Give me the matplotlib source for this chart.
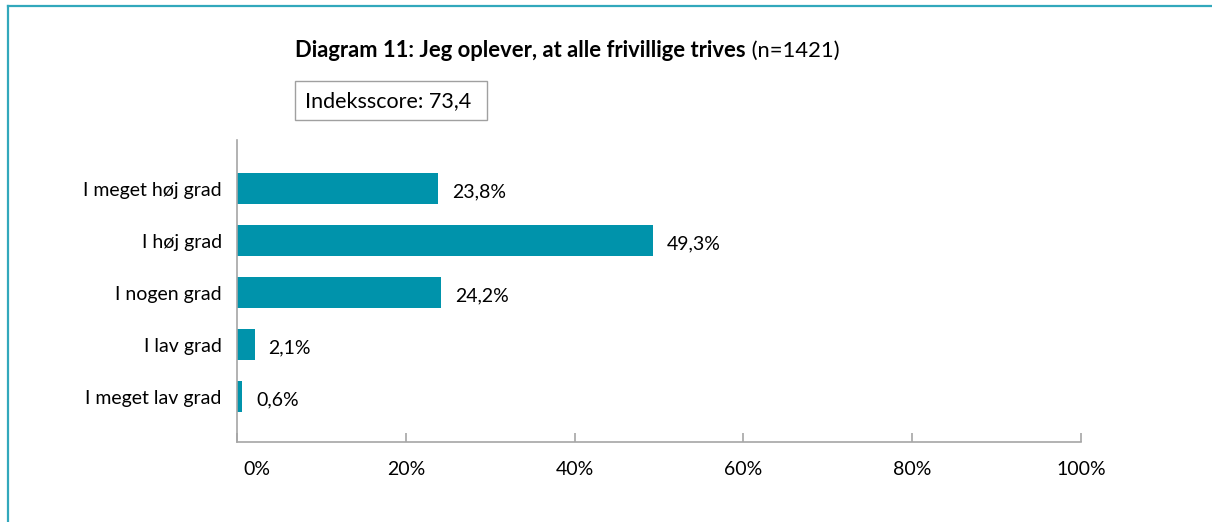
import matplotlib
matplotlib.use("Agg")
import matplotlib.pyplot as plt
import matplotlib.patches as patches
import matplotlib.transforms as mtransforms
from matplotlib.lines import Line2D

plt.rcParams['font.family'] = ['Lato', 'DejaVu Sans']

categories = ["I meget høj grad", "I høj grad", "I nogen grad", "I lav grad", "I meget lav grad"]
shares = [23.8, 49.3, 24.2, 2.1, 0.6]
x_ticks = [0, 20, 40, 60, 80, 100]
title_bold = "Diagram 11: Jeg oplever, at alle frivillige trives"
title_rest = " (n=1421)"
index_label = "Indeksscore: 73,4"

W, H = 1212, 522
bar_color = '#0093AB'
axis_gray = '#A6A6A6'
frame_color = '#32A8BC'
fs = 14
fs_title = 15.8
fs_box = 15.5

fig = plt.figure(figsize=(W / 100, H / 100), dpi=100)
fig.patch.set_facecolor('white')

# plot area in pixel terms
ax = fig.add_axes([237 / W, 1 - 442 / H, (1081 - 237) / W, (442 - 140) / H])

ypos = list(range(len(categories)))
ax.barh(ypos, shares, height=0.6, color=bar_color, zorder=2)
ax.set_xlim(0, 100)
ax.set_ylim(len(categories) - 1 + 0.87, -0.94)

for y, v in zip(ypos, shares):
    ax.annotate(f"{v:.1f}%".replace('.', ','), xy=(v, y), xytext=(10, -2),
                textcoords='offset points', ha='left', va='center', fontsize=fs)

ax.set_yticks(ypos)
ax.set_yticklabels(categories, fontsize=fs)
ax.tick_params(axis='y', length=0, pad=11)

ax.set_xticks(x_ticks)
ax.set_xticklabels([f"{t}%" for t in x_ticks], fontsize=fs)
ax.tick_params(axis='x', direction='in', length=6.5, width=1.2, color=axis_gray, pad=14)
# the 0% label sits a little right of its tick so it clears the y axis
first = ax.get_xticklabels()[0]
first.set_transform(first.get_transform() +
                    mtransforms.ScaledTranslation(20 / 100, 0, fig.dpi_scale_trans))

for side in ['top', 'right']:
    ax.spines[side].set_visible(False)
for side in ['left', 'bottom']:
    ax.spines[side].set_color(axis_gray)
    ax.spines[side].set_linewidth(1.2)

# title: bold part followed by the sample size
t1 = fig.text(295 / W, 1 - 57 / H, title_bold, fontsize=fs_title, fontweight='bold',
              ha='left', va='baseline')
ax.annotate(title_rest, xy=(1, 0), xycoords=t1, ha='left', va='bottom',
            fontsize=fs_title, annotation_clip=False)

# index score box
fig.add_artist(patches.Rectangle((295 / W, 1 - 120 / H), 192 / W, 39 / H,
                                 transform=fig.transFigure, fill=False,
                                 edgecolor='#A0A0A0', linewidth=1))
fig.text(305 / W, 1 - 101 / H, index_label, fontsize=fs_box, ha='left', va='center')

# frame lines along top and left
fig.add_artist(Line2D([8 / W, 1], [1 - 6 / H, 1 - 6 / H], transform=fig.transFigure,
                      color=frame_color, linewidth=1.6))
fig.add_artist(Line2D([8 / W, 8 / W], [0, 1 - 6 / H], transform=fig.transFigure,
                      color=frame_color, linewidth=1.6))

fig.savefig("out.png", dpi=100)
